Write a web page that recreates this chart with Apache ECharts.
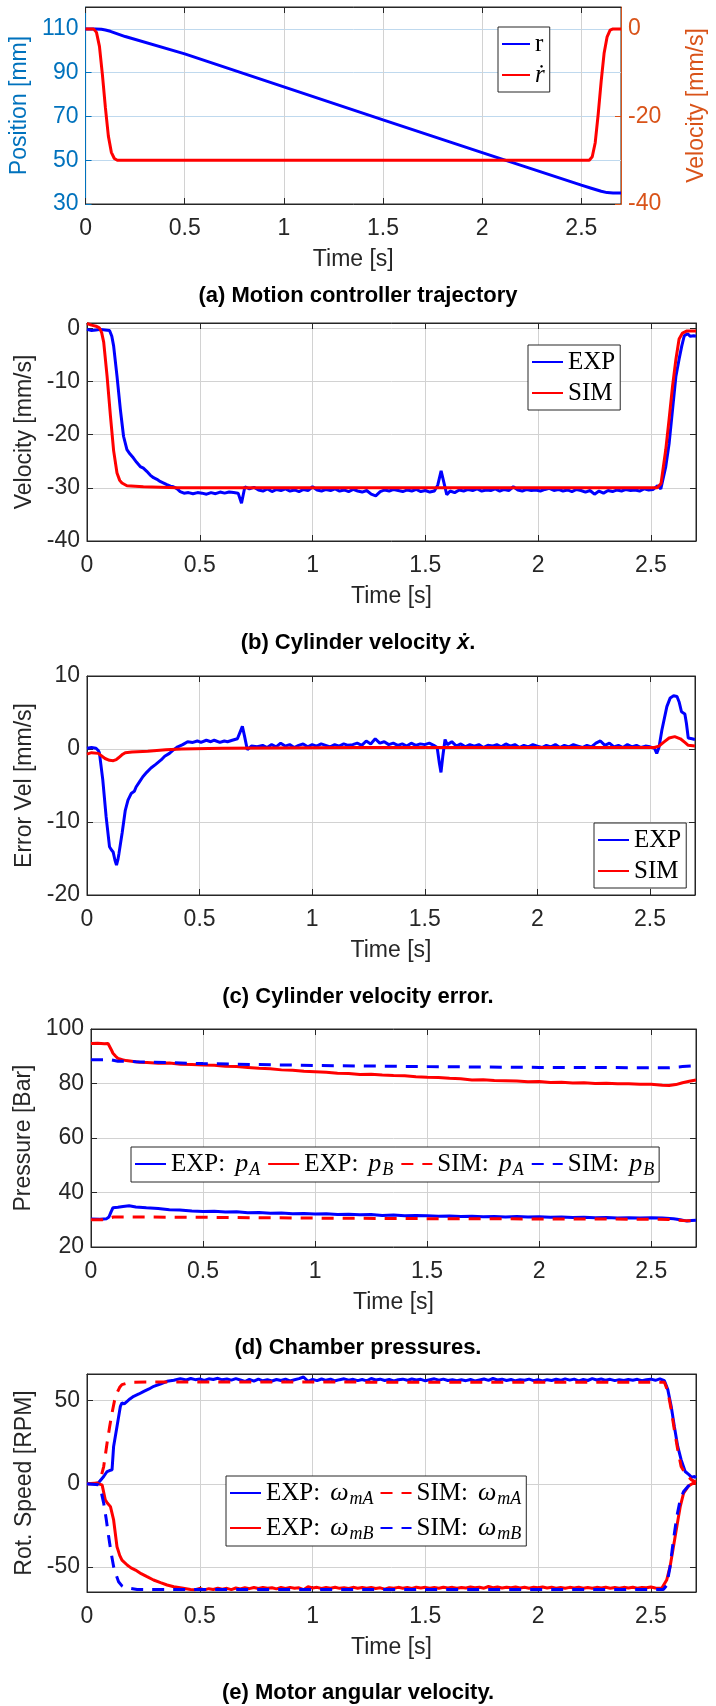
<!DOCTYPE html>
<html lang="en">
<head>
<meta charset="UTF-8">
<title>Cylinder experiment</title>
<script src="https://cdn.jsdelivr.net/npm/echarts@6/dist/echarts.min.js"></script>
<style>
    * { margin: 0; padding: 0; }
    body { background: #fff; }
</style>
</head>
<body>
<div id="main" style="width:716px;height:1706px;"></div>
<script type="text/javascript">
    // tick values
    var timeTicks = [0, 0.5, 1, 1.5, 2, 2.5];
    var posTicks = [30, 50, 70, 90, 110];
    var rdotTicks = [-40, -20, 0];
    var velTicks = [-40, -30, -20, -10, 0];
    var errTicks = [-20, -10, 0, 10];
    var presTicks = [20, 40, 60, 80, 100];
    var rpmTicks = [-50, 0, 50];

    // (a) trajectory
    var posR = [[0,110],[0.05,110],[0.08,109.8],[0.1,109.5],[0.125,108.9],[0.15,108.1],[0.175,107.3],[0.2,106.5],
        [0.5,98.6],[1.0,83.5],[1.5,68.4],[2.0,53.5],[2.5,38.6],[2.55,37.2],[2.6,35.8],[2.63,35.2],[2.66,35],[2.7,35]];
    var velRdot = [[0,0],[0.04,0],[0.055,-0.8],[0.07,-4],[0.085,-10.5],[0.1,-18],[0.115,-24.5],[0.13,-28.2],[0.145,-29.6],[0.16,-30],
        [2.54,-30],[2.555,-29.2],[2.57,-26],[2.585,-19.5],[2.6,-12],[2.615,-5.5],[2.63,-1.8],[2.645,-0.3],[2.66,0],[2.7,0]];

    // (b) cylinder velocity
    var velExp = [[0,-0.2],[0.02,-0.4],[0.04,-0.3],[0.06,-0.2],[0.08,-0.3],[0.1,-0.4],[0.11,-1.5],[0.118,-3.3],[0.133,-9],[0.148,-15.3],
        [0.155,-17.8],[0.162,-20.3],[0.177,-22.8],[0.19,-23.6],[0.206,-24.4],[0.22,-25.2],[0.236,-26],[0.25,-26.3],[0.265,-26.9],[0.28,-27.6],
        [0.295,-28.1],[0.31,-28.4],[0.324,-28.8],[0.34,-29.1],[0.354,-29.4],[0.37,-29.7],[0.383,-29.8],[0.4,-30.2],[0.413,-30.7],[0.43,-31.0],
        [0.45,-30.9],[0.47,-31.1],[0.49,-30.9],[0.51,-31.0],[0.53,-31.2],[0.55,-30.9],[0.57,-31.1],[0.59,-30.8],[0.61,-31.0],[0.63,-30.8],
        [0.65,-30.9],[0.67,-31.0],[0.685,-32.9],[0.7,-29.8],[0.72,-30.2],[0.74,-29.9],[0.76,-30.4],[0.78,-30.6],[0.8,-30.2],[0.82,-30.7],
        [0.84,-30.3],[0.86,-30.5],[0.88,-30.2],[0.9,-30.6],[0.92,-30.4],[0.94,-30.7],[0.96,-30.3],[0.98,-30.5],[1.0,-29.8],[1.02,-30.4],
        [1.04,-30.6],[1.06,-30.3],[1.08,-30.5],[1.1,-30.2],[1.12,-30.6],[1.14,-30.4],[1.16,-30.7],[1.18,-30.3],[1.2,-30.6],[1.22,-30.8],
        [1.24,-30.5],[1.26,-31.2],[1.28,-31.5],[1.3,-30.7],[1.32,-30.4],[1.34,-30.6],[1.36,-30.3],[1.38,-30.5],[1.4,-30.7],[1.42,-30.4],
        [1.44,-30.6],[1.46,-30.3],[1.48,-30.7],[1.5,-30.5],[1.52,-30.8],[1.54,-30.6],[1.555,-29.5],[1.57,-26.8],[1.585,-29.5],[1.595,-31.3],
        [1.61,-30.6],[1.63,-30.9],[1.65,-30.4],[1.67,-30.6],[1.69,-30.3],[1.71,-30.5],[1.73,-30.2],[1.75,-30.6],[1.77,-30.4],[1.79,-30.5],
        [1.81,-30.2],[1.83,-30.6],[1.85,-30.3],[1.87,-30.5],[1.89,-29.8],[1.91,-30.4],[1.93,-30.6],[1.95,-30.3],[1.97,-30.5],[1.99,-30.4],
        [2.01,-30.6],[2.03,-30.3],[2.05,-30.1],[2.07,-30.5],[2.09,-30.3],[2.11,-30.6],[2.13,-30.4],[2.15,-30.7],[2.17,-30.3],[2.19,-30.5],
        [2.21,-30.8],[2.23,-30.5],[2.25,-31.2],[2.27,-30.6],[2.29,-31.0],[2.31,-30.5],[2.33,-30.7],[2.35,-30.4],[2.37,-30.6],[2.39,-30.3],
        [2.41,-30.5],[2.43,-30.4],[2.45,-30.6],[2.47,-30.2],[2.49,-30.4],[2.51,-30.3],[2.53,-29.6],[2.544,-30.2],[2.566,-26],[2.581,-21.6],
        [2.596,-15.3],[2.611,-9],[2.625,-5.8],[2.637,-3.3],[2.648,-1.4],[2.662,-1.0],[2.675,-1.5],[2.69,-1.4],[2.7,-1.5]];
    var velSim = [[0,0.9],[0.02,0.6],[0.04,0.4],[0.055,0.1],[0.065,-0.8],[0.074,-2.6],[0.089,-9],[0.104,-16.5],[0.118,-23],[0.133,-27.2],
        [0.145,-28.6],[0.155,-29.1],[0.177,-29.6],[0.25,-29.8],[0.4,-30],[2.528,-30],[2.545,-29.2],[2.566,-22.8],[2.581,-17],[2.596,-10.9],
        [2.611,-5.8],[2.625,-2],[2.64,-0.9],[2.66,-0.5],[2.7,-0.5]];

    // (c) velocity error
    var errExp = [[0,0.1],[0.02,0.2],[0.04,0.1],[0.05,-0.2],[0.055,-0.5],[0.07,-4.2],[0.085,-9.3],[0.1,-13.4],[0.108,-13.8],[0.116,-14.1],
        [0.124,-15.2],[0.131,-15.9],[0.137,-15.2],[0.142,-14.3],[0.156,-11.5],[0.17,-8.4],[0.182,-7],[0.196,-6.1],[0.21,-5.8],[0.218,-5.2],
        [0.233,-4.5],[0.248,-3.8],[0.265,-3.2],[0.284,-2.6],[0.305,-2.1],[0.329,-1.5],[0.345,-1.0],[0.366,-0.6],[0.385,-0.1],[0.403,0.3],
        [0.425,0.6],[0.447,1.0],[0.47,0.9],[0.49,1.1],[0.506,0.9],[0.53,1.2],[0.55,1.0],[0.565,1.2],[0.59,0.9],[0.61,1.1],
        [0.624,1.0],[0.645,1.2],[0.668,1.4],[0.69,3.1],[0.7,1.7],[0.712,-0.1],[0.73,0.4],[0.756,0.3],[0.78,0.5],[0.8,0.2],
        [0.82,0.6],[0.84,0.3],[0.86,0.8],[0.88,0.4],[0.9,0.6],[0.92,0.2],[0.94,0.5],[0.96,0.7],[0.98,0.3],[1.0,0.6],
        [1.02,0.4],[1.04,0.7],[1.06,0.5],[1.08,0.3],[1.1,0.6],[1.12,0.4],[1.14,0.7],[1.16,0.5],[1.18,0.6],[1.2,0.8],
        [1.22,0.5],[1.24,1.1],[1.26,0.7],[1.28,1.4],[1.3,0.8],[1.32,1.0],[1.34,0.6],[1.36,0.8],[1.38,0.5],[1.4,0.7],
        [1.42,0.4],[1.44,0.8],[1.46,0.5],[1.48,0.7],[1.5,0.6],[1.52,0.8],[1.54,0.5],[1.555,0.2],[1.565,-2.0],[1.572,-3.2],
        [1.58,-1.0],[1.59,1.3],[1.6,0.6],[1.62,1.0],[1.64,0.4],[1.66,0.7],[1.68,0.3],[1.7,0.6],[1.72,0.4],[1.74,0.6],
        [1.76,0.2],[1.78,0.5],[1.8,0.4],[1.82,0.6],[1.84,0.3],[1.86,0.7],[1.88,0.4],[1.9,0.6],[1.92,0.2],[1.94,0.5],
        [1.96,0.3],[1.98,0.6],[2.0,0.4],[2.02,0.2],[2.04,0.5],[2.06,0.3],[2.08,0.6],[2.1,0.2],[2.12,0.5],[2.14,0.3],
        [2.16,0.6],[2.18,0.4],[2.2,0.2],[2.22,0.5],[2.24,0.3],[2.26,0.8],[2.28,1.1],[2.3,0.5],[2.32,0.8],[2.34,0.3],
        [2.36,0.5],[2.38,0.2],[2.4,0.6],[2.42,0.3],[2.44,0.5],[2.46,0.2],[2.48,0.4],[2.5,0.3],[2.52,0.1],[2.53,-0.6],
        [2.54,0.2],[2.553,2.6],[2.575,5.8],[2.59,7.0],[2.605,7.3],[2.62,7.2],[2.63,6.4],[2.64,5.1],[2.655,4.8],[2.662,3.5],
        [2.67,1.5],[2.687,1.4],[2.7,1.3]];
    var errSim = [[0,-0.7],[0.02,-0.5],[0.05,-0.6],[0.08,-1.3],[0.1,-1.55],[0.117,-1.6],[0.13,-1.45],[0.14,-1.2],[0.155,-0.8],[0.17,-0.5],
        [0.2,-0.4],[0.27,-0.3],[0.35,-0.1],[0.42,0],[0.6,0.1],[0.8,0.15],[1.2,0.2],[2.52,0.2],[2.54,0.4],[2.56,0.9],
        [2.585,1.5],[2.61,1.7],[2.635,1.4],[2.655,0.9],[2.67,0.5],[2.7,0.4]];

    // (d) chamber pressures
    var pAExp = [[0,30.3],[0.04,30.2],[0.07,30.4],[0.08,31],[0.09,33],[0.098,34.4],[0.12,34.6],[0.143,34.9],[0.17,35.1],[0.2,34.7],
        [0.247,34.4],[0.3,34.1],[0.35,33.7],[0.396,33.6],[0.45,33.2],[0.5,33.0],[0.55,33.1],[0.6,32.8],[0.65,32.9],[0.7,32.6],
        [0.75,32.7],[0.8,32.4],[0.85,32.5],[0.9,32.2],[0.95,32.3],[1.0,32.1],[1.05,32.2],[1.1,31.9],[1.15,32.0],[1.2,31.8],
        [1.25,31.9],[1.3,31.6],[1.35,31.7],[1.4,31.5],[1.45,31.6],[1.5,31.5],[1.55,31.3],[1.6,31.4],[1.65,31.2],[1.7,31.3],
        [1.75,31.1],[1.8,31.2],[1.85,31.0],[1.9,31.2],[1.95,31.0],[2.0,31.1],[2.05,30.9],[2.1,31.0],[2.15,30.8],[2.2,30.9],
        [2.25,30.7],[2.3,30.8],[2.35,30.6],[2.4,30.7],[2.45,30.6],[2.5,30.7],[2.55,30.6],[2.6,30.4],[2.63,30.0],[2.66,29.5],
        [2.68,29.7],[2.7,29.8]];
    var pBExp = [[0,94.7],[0.03,94.8],[0.06,94.6],[0.076,94.7],[0.09,92.5],[0.098,91.1],[0.11,90],[0.12,89.2],[0.14,88.7],[0.157,88.4],
        [0.19,88.1],[0.217,87.8],[0.25,87.7],[0.3,87.4],[0.35,87.5],[0.4,87.1],[0.45,87.0],[0.5,86.8],[0.55,86.7],[0.6,86.3],
        [0.65,86.2],[0.7,85.9],[0.75,85.6],[0.8,85.4],[0.85,85.0],[0.9,84.9],[0.95,84.5],[1.0,84.3],[1.05,84.1],[1.1,83.8],
        [1.15,83.7],[1.2,83.3],[1.25,83.4],[1.3,83.1],[1.35,82.9],[1.4,82.8],[1.45,82.5],[1.5,82.3],[1.55,82.2],[1.6,81.9],
        [1.65,81.7],[1.7,81.3],[1.75,81.4],[1.8,81.1],[1.85,81.0],[1.9,80.9],[1.95,80.6],[2.0,80.7],[2.05,80.4],[2.1,80.5],
        [2.15,80.2],[2.2,80.3],[2.25,80.0],[2.3,80.1],[2.35,79.9],[2.4,79.9],[2.45,79.7],[2.5,79.7],[2.55,79.4],[2.58,79.3],
        [2.61,79.6],[2.64,80.3],[2.67,80.8],[2.7,81.3]];
    var pASim = [[0,30],[0.05,30],[0.08,30.5],[0.1,31],[0.2,31],[0.5,30.9],[1.0,30.6],[1.5,30.4],[2.0,30.3],[2.5,30.2],
        [2.58,30.1],[2.64,29.7],[2.7,29.6]];
    var pBSim = [[0,88.7],[0.09,88.7],[0.12,88.2],[0.2,88.0],[0.5,87.3],[1.0,86.6],[1.5,86.2],[2.0,85.9],[2.5,85.8],[2.58,85.8],
        [2.64,86.2],[2.7,86.5]];

    // (e) motor angular velocity
    var wAExp = [[0,0],[0.03,0],[0.05,0.5],[0.074,4.4],[0.089,7.4],[0.1,8],[0.111,8.4],[0.118,22.5],[0.133,34.5],[0.148,46.6],
        [0.155,48.6],[0.165,48],[0.178,49.6],[0.19,51],[0.207,52.6],[0.23,54],[0.252,55.6],[0.275,57],[0.296,58.6],[0.325,60],
        [0.355,61.6],[0.385,62.2],[0.414,63.2],[0.44,62.4],[0.46,63.3],[0.48,62.6],[0.5,63.0],[0.52,62.2],[0.54,63.1],[0.56,62.7],
        [0.58,63.4],[0.6,62.5],[0.62,63.0],[0.64,62.3],[0.66,63.2],[0.68,62.4],[0.7,61.5],[0.72,62.8],[0.74,61.7],[0.76,62.9],
        [0.78,61.9],[0.8,62.6],[0.82,61.8],[0.84,62.7],[0.86,62.1],[0.88,62.9],[0.9,61.8],[0.92,62.5],[0.94,63.2],[0.96,64.2],
        [0.98,61.6],[1.0,62.8],[1.02,62.0],[1.04,63.0],[1.06,62.2],[1.08,62.9],[1.1,61.9],[1.12,62.6],[1.14,63.1],[1.16,62.3],
        [1.18,62.8],[1.2,62.0],[1.22,62.7],[1.24,61.9],[1.26,63.3],[1.28,62.4],[1.3,62.9],[1.32,62.1],[1.34,62.7],[1.36,61.8],
        [1.38,62.5],[1.4,62.9],[1.42,62.2],[1.44,63.0],[1.46,62.4],[1.48,62.8],[1.5,61.9],[1.52,62.6],[1.54,63.1],[1.56,62.3],
        [1.58,62.9],[1.6,62.1],[1.62,62.6],[1.64,61.9],[1.66,62.5],[1.68,62.0],[1.7,62.7],[1.72,61.8],[1.74,62.4],[1.76,63.0],
        [1.78,62.2],[1.8,63.3],[1.82,62.4],[1.84,62.9],[1.86,62.1],[1.88,62.7],[1.9,61.9],[1.92,62.6],[1.94,62.2],[1.96,62.9],
        [1.98,62.0],[2.0,62.5],[2.02,61.8],[2.04,62.6],[2.06,62.1],[2.08,62.8],[2.1,62.2],[2.12,63.1],[2.14,62.3],[2.16,62.9],
        [2.18,61.9],[2.2,62.7],[2.22,62.1],[2.24,63.2],[2.26,62.4],[2.28,63.0],[2.3,62.2],[2.32,62.8],[2.34,62.0],[2.36,62.6],
        [2.38,62.1],[2.4,62.7],[2.42,62.3],[2.44,62.8],[2.46,62.0],[2.48,62.6],[2.5,62.9],[2.52,62.2],[2.54,63.1],[2.56,62],
        [2.575,56.6],[2.59,46.6],[2.604,34.5],[2.619,22.5],[2.634,14.5],[2.652,7.4],[2.67,5.4],[2.68,4.0],[2.694,4.4],[2.7,3.5]];
    var wBExp = [[0,0],[0.05,0],[0.067,-0.6],[0.081,-9.6],[0.09,-11.5],[0.104,-13.7],[0.118,-21.7],[0.133,-37.8],[0.145,-43],[0.155,-45.8],
        [0.178,-48.8],[0.195,-50.5],[0.215,-51.8],[0.24,-54],[0.266,-55.8],[0.295,-57.8],[0.326,-59.4],[0.355,-60.8],[0.385,-61.8],[0.42,-62.6],
        [0.459,-63.5],[0.48,-63.6],[0.5,-62.9],[0.52,-63.7],[0.54,-63.0],[0.56,-63.5],[0.58,-62.7],[0.6,-63.3],[0.62,-62.8],[0.64,-63.6],
        [0.66,-62.6],[0.68,-63.2],[0.7,-62.4],[0.72,-63.0],[0.74,-62.3],[0.76,-62.9],[0.78,-62.2],[0.8,-62.8],[0.82,-62.4],[0.84,-63.1],
        [0.86,-62.3],[0.88,-62.9],[0.9,-62.2],[0.92,-62.8],[0.94,-62.5],[0.96,-63.6],[0.98,-61.8],[1.0,-62.6],[1.02,-62.2],[1.04,-62.9],
        [1.06,-62.3],[1.08,-62.7],[1.1,-62.1],[1.12,-62.8],[1.14,-62.4],[1.16,-62.9],[1.18,-62.2],[1.2,-62.7],[1.22,-62.3],[1.24,-62.8],
        [1.26,-62.2],[1.28,-62.9],[1.3,-62.5],[1.32,-63.3],[1.34,-62.4],[1.36,-62.8],[1.38,-62.2],[1.4,-62.7],[1.42,-62.3],[1.44,-62.9],
        [1.46,-62.1],[1.48,-62.6],[1.5,-62.2],[1.52,-62.8],[1.54,-62.3],[1.56,-62.7],[1.58,-62.1],[1.6,-62.6],[1.62,-62.2],[1.64,-62.8],
        [1.66,-62.3],[1.68,-62.6],[1.7,-62.0],[1.72,-62.5],[1.74,-62.1],[1.76,-62.7],[1.78,-61.7],[1.8,-62.4],[1.82,-62.0],[1.84,-62.6],
        [1.86,-62.1],[1.88,-62.5],[1.9,-62.0],[1.92,-62.6],[1.94,-62.2],[1.96,-62.7],[1.98,-62.1],[2.0,-62.5],[2.02,-62.0],[2.04,-62.6],
        [2.06,-62.2],[2.08,-62.7],[2.1,-62.3],[2.12,-62.8],[2.14,-62.2],[2.16,-62.6],[2.18,-62.1],[2.2,-62.7],[2.22,-62.3],[2.24,-62.8],
        [2.26,-62.2],[2.28,-62.6],[2.3,-62.1],[2.32,-62.7],[2.34,-62.3],[2.36,-62.8],[2.38,-62.2],[2.4,-62.6],[2.42,-62.1],[2.44,-62.7],
        [2.46,-62.3],[2.48,-62.5],[2.5,-62.0],[2.52,-62.6],[2.548,-62.8],[2.57,-57.8],[2.585,-49.8],[2.6,-37.8],[2.615,-25.7],[2.63,-13.7],
        [2.645,-5.6],[2.667,-1.2],[2.685,0.2],[2.7,0.4]];
    var wASim = [[0,0],[0.05,0.5],[0.06,3],[0.074,10.4],[0.089,24.5],[0.1,34],[0.111,42.6],[0.122,50],[0.133,54.6],[0.145,58],
        [0.155,59.6],[0.18,60.6],[0.207,61.1],[0.3,61.2],[2.56,61],[2.575,55.6],[2.59,44.6],[2.604,32.5],[2.619,20.5],[2.634,10.4],
        [2.656,5.4],[2.68,2.4],[2.7,1.0]];
    var wBSim = [[0,0],[0.05,-0.5],[0.06,-3],[0.074,-11.6],[0.085,-21],[0.096,-31.7],[0.107,-41.5],[0.118,-49.8],[0.13,-55],[0.14,-58.8],
        [0.155,-61.3],[0.17,-62.4],[0.222,-63.5],[2.555,-63.5],[2.57,-61],[2.585,-49.8],[2.6,-33.7],[2.615,-19.7],[2.63,-9.6],[2.645,-4.6],
        [2.667,-1.2],[2.7,0]];

    var SANS = '"Liberation Sans", Arial, Helvetica, sans-serif';
    var SERIF = '"Liberation Serif", "Times New Roman", serif';
    var INK = '#262626';
    var GRID_GRAY = '#d2d2d2';
    var BLUE = '#0000ff', RED = '#ff0000';
    var AX_BLUE = '#0072BD', AX_ORANGE = '#D95319';

    var chart = echarts.init(document.getElementById('main'), null, {renderer: 'canvas'});

    // plot boxes, px
    var boxes = [
        {left: 84, top: 7, width: 546, height: 197},
        {left: 87, top: 323, width: 609, height: 218},
        {left: 87, top: 676, width: 608, height: 219},
        {left: 91, top: 1029, width: 605, height: 218},
        {left: 87, top: 1374, width: 609, height: 218}
    ];

    function bottomAxis(gi) {
        return {
            type: 'value', gridIndex: gi, min: 0, max: 2.7, position: 'bottom',
            name: 'Time [s]', nameLocation: 'middle', nameGap: 44,
            nameTextStyle: {fontSize: 23, color: INK, fontFamily: SANS},
            axisLine: {onZero: false, lineStyle: {color: INK}},
            axisTick: {inside: true, length: 6, customValues: timeTicks, lineStyle: {color: INK}},
            axisLabel: {fontSize: 23, color: INK, fontFamily: SANS, margin: 13, customValues: timeTicks},
            splitLine: {show: true, lineStyle: {color: GRID_GRAY}}
        };
    }
    function topAxis(gi) {
        return {
            type: 'value', gridIndex: gi, min: 0, max: 2.7, position: 'top',
            axisLine: {onZero: false, lineStyle: {color: INK}},
            axisTick: {inside: true, length: 6, customValues: timeTicks, lineStyle: {color: INK}},
            axisLabel: {show: false}, splitLine: {show: false}
        };
    }
    function leftAxis(gi, name, min, max, ticks, gap, color, gridColor) {
        return {
            type: 'value', gridIndex: gi, min: min, max: max, position: 'left',
            name: name, nameLocation: 'middle', nameGap: gap, nameRotate: 90,
            nameTextStyle: {fontSize: 23, color: color || INK, fontFamily: SANS},
            axisLine: {onZero: false, lineStyle: {color: color || INK}},
            axisTick: {inside: true, length: 6, customValues: ticks, lineStyle: {color: color || INK}},
            axisLabel: {fontSize: 23, color: color || INK, fontFamily: SANS, margin: 7, customValues: ticks},
            splitLine: {show: true, lineStyle: {color: gridColor || GRID_GRAY}}
        };
    }
    function rightBox(gi, min, max, ticks) {
        return {
            type: 'value', gridIndex: gi, min: min, max: max, position: 'right',
            axisLine: {onZero: false, lineStyle: {color: INK}},
            axisTick: {inside: true, length: 6, customValues: ticks, lineStyle: {color: INK}},
            axisLabel: {show: false}, splitLine: {show: false}
        };
    }

    var xAxes = [], yAxes = [];
    for (var i = 0; i < 5; i++) { xAxes.push(bottomAxis(i)); xAxes.push(topAxis(i)); }

    yAxes.push(leftAxis(0, 'Position [mm]', 30, 120, posTicks, 48, AX_BLUE, '#bfd9ee'));
    yAxes.push({
        type: 'value', gridIndex: 0, min: -40, max: 5, position: 'right',
        name: 'Velocity [mm/s]', nameLocation: 'middle', nameGap: 64, nameRotate: 90,
        nameTextStyle: {fontSize: 23, color: AX_ORANGE, fontFamily: SANS},
        axisLine: {onZero: false, lineStyle: {color: AX_ORANGE}},
        axisTick: {inside: true, length: 6, customValues: rdotTicks, lineStyle: {color: AX_ORANGE}},
        axisLabel: {fontSize: 23, color: AX_ORANGE, fontFamily: SANS, margin: 7, customValues: rdotTicks},
        splitLine: {show: false}
    });
    yAxes.push(leftAxis(1, 'Velocity [mm/s]', -40, 1, velTicks, 48));
    yAxes.push(rightBox(1, -40, 1, velTicks));
    yAxes.push(leftAxis(2, 'Error Vel [mm/s]', -20, 10, errTicks, 48));
    yAxes.push(rightBox(2, -20, 10, errTicks));
    yAxes.push(leftAxis(3, 'Pressure [Bar]', 20, 100, presTicks, 53));
    yAxes.push(rightBox(3, 20, 100, presTicks));
    yAxes.push(leftAxis(4, 'Rot. Speed [RPM]', -65, 66, rpmTicks, 48));
    yAxes.push(rightBox(4, -65, 66, rpmTicks));

    function line(name, gi, yi, data, color, dashed) {
        return {
            name: name, type: 'line', xAxisIndex: gi * 2, yAxisIndex: yi,
            data: data, symbol: 'none', showSymbol: false,
            lineStyle: {color: color, width: 3, type: dashed ? [12, 9] : 'solid'},
            itemStyle: {color: color},
            emphasis: {disabled: true}
        };
    }

    var series = [
        line('r', 0, 0, posR, BLUE),
        line('rdot', 0, 1, velRdot, RED),
        line('EXP', 1, 2, velExp, BLUE),
        line('SIM', 1, 2, velSim, RED),
        line('EXP ', 2, 4, errExp, BLUE),
        line('SIM ', 2, 4, errSim, RED),
        line('pA exp', 3, 6, pAExp, BLUE),
        line('pB exp', 3, 6, pBExp, RED),
        line('pA sim', 3, 6, pASim, RED, true),
        line('pB sim', 3, 6, pBSim, BLUE, true),
        line('wA exp', 4, 8, wAExp, BLUE),
        line('wB exp', 4, 8, wBExp, RED),
        line('wA sim', 4, 8, wASim, RED, true),
        line('wB sim', 4, 8, wBSim, BLUE, true)
    ];

    var legendText = {
        'r': 'r', 'rdot': '{i|ṙ}', 'EXP': 'EXP', 'SIM': 'SIM', 'EXP ': 'EXP', 'SIM ': 'SIM',
        'pA exp': 'EXP:{m|p}{s|A}', 'pB exp': 'EXP:{m|p}{s|B}',
        'pA sim': 'SIM:{m|p}{s|A}', 'pB sim': 'SIM:{m|p}{s|B}',
        'wA exp': 'EXP:{m|ω}{s|mA}', 'wB exp': 'EXP:{m|ω}{s|mB}',
        'wA sim': 'SIM:{m|ω}{s|mA}', 'wB sim': 'SIM:{m|ω}{s|mB}'
    };
    var richLegend = {
        i: {fontFamily: SERIF, fontStyle: 'italic', fontSize: 25, color: '#000'},
        m: {fontFamily: SERIF, fontStyle: 'italic', fontSize: 26, color: '#000', padding: [0, 0, 0, 10]},
        s: {fontFamily: SERIF, fontStyle: 'italic', fontSize: 18, color: '#000', padding: [12, 0, 0, 1]}
    };
    function legend(names, pos, extra) {
        var l = {
            data: names, left: pos[0], top: pos[1],
            orient: 'vertical', itemWidth: 31, itemHeight: 14, itemGap: 3,
            padding: [3, 5, 3, 3], selectedMode: false,
            backgroundColor: '#fff', borderColor: INK, borderWidth: 1, borderRadius: 0,
            itemStyle: {opacity: 0},
            textStyle: {fontFamily: SERIF, fontSize: 25, color: '#000', lineHeight: 28, rich: richLegend},
            formatter: function (n) { return legendText[n]; }
        };
        for (var k in extra) l[k] = extra[k];
        return l;
    }

    var legends = [
        legend(['r', 'rdot'], [498, 27], {itemWidth: 28}),
        legend(['EXP', 'SIM'], [528, 345]),
        legend(['EXP ', 'SIM '], [594, 823]),
        legend(['pA exp', 'pB exp', 'pA sim', 'pB sim'], [131, 1147], {orient: 'horizontal', itemGap: 7}),
        legend(['wA exp', 'wA sim', 'wB exp', 'wB sim'], [226, 1476], {orient: 'horizontal', itemGap: 6, width: 320})
    ];

    var capStyle = {fontSize: 22, fontWeight: 'bold', color: '#000', fontFamily: SANS,
        rich: {x: {fontSize: 22, fontWeight: 'bold', fontStyle: 'italic', color: '#000', fontFamily: SANS}}};
    var titles = [
        {text: '(a) Motion controller trajectory', left: 'center', top: 280, textStyle: capStyle},
        {text: '(b) Cylinder velocity {x|ẋ}.', left: 'center', top: 627, textStyle: capStyle},
        {text: '(c) Cylinder velocity error.', left: 'center', top: 981, textStyle: capStyle},
        {text: '(d) Chamber pressures.', left: 'center', top: 1332, textStyle: capStyle},
        {text: '(e) Motor angular velocity.', left: 'center', top: 1677, textStyle: capStyle}
    ];

    var option = {
        animation: false,
        backgroundColor: '#fff',
        title: titles,
        tooltip: {show: false},
        legend: legends,
        grid: boxes.map(function (b) {
            return {left: b.left, top: b.top, width: b.width, height: b.height, show: true,
                borderColor: INK, borderWidth: 1, backgroundColor: 'transparent', containLabel: false};
        }),
        xAxis: xAxes,
        yAxis: yAxes,
        series: series
    };
    chart.setOption(option);
</script>
</body>
</html>
